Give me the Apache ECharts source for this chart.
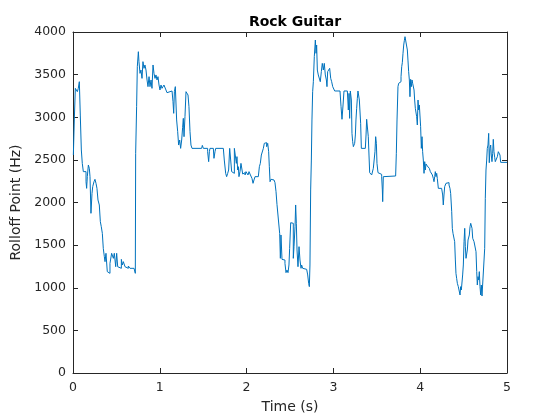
<!DOCTYPE html>
<html>
<head>
<meta charset="utf-8">
<script src="https://cdn.jsdelivr.net/npm/echarts@6/dist/echarts.min.js"></script>
<style>
  html, body { margin: 0; padding: 0; background: #fff; }
  #chart { width: 560px; height: 420px; }
</style>
</head>
<body>
<div id="chart"></div>
<script>
// time (s) and spectral rolloff (Hz)
const times = [
  0.004, 0.015, 0.027, 0.050, 0.061, 0.073, 0.084, 0.096, 0.107, 0.119,
  0.138, 0.150, 0.157, 0.165, 0.177, 0.188, 0.196, 0.207, 0.219, 0.227,
  0.242, 0.253, 0.265, 0.276, 0.288, 0.303, 0.315, 0.326, 0.338, 0.349,
  0.361, 0.369, 0.380, 0.395, 0.415, 0.426, 0.445, 0.465, 0.476, 0.492,
  0.503, 0.515, 0.530, 0.557, 0.568, 0.580, 0.599, 0.618, 0.637, 0.657,
  0.703, 0.718, 0.722, 0.733, 0.741, 0.753, 0.760, 0.772, 0.783, 0.795,
  0.806, 0.818, 0.829, 0.841, 0.853, 0.864, 0.876, 0.887, 0.899, 0.910,
  0.922, 0.933, 0.945, 0.956, 0.968, 0.979, 0.991, 1.002, 1.014, 1.025,
  1.037, 1.048, 1.060, 1.071, 1.083, 1.094, 1.141, 1.152, 1.160, 1.168,
  1.179, 1.190, 1.194, 1.206, 1.217, 1.229, 1.240, 1.252, 1.263, 1.271,
  1.279, 1.290, 1.302, 1.313, 1.325, 1.336, 1.348, 1.359, 1.371, 1.482,
  1.490, 1.502, 1.551, 1.563, 1.571, 1.578, 1.617, 1.624, 1.636, 1.644,
  1.732, 1.743, 1.759, 1.770, 1.782, 1.793, 1.805, 1.816, 1.828, 1.847,
  1.859, 1.870, 1.882, 1.889, 1.897, 1.905, 1.912, 1.924, 1.935, 1.943,
  1.955, 1.970, 1.982, 1.993, 2.005, 2.016, 2.028, 2.039, 2.051, 2.062,
  2.074, 2.085, 2.097, 2.135, 2.147, 2.158, 2.170, 2.181, 2.193, 2.204,
  2.220, 2.231, 2.243, 2.254, 2.262, 2.270, 2.281, 2.293, 2.304, 2.316,
  2.327, 2.339, 2.350, 2.373, 2.381, 2.389, 2.396, 2.408, 2.431, 2.442,
  2.454, 2.465, 2.477, 2.488, 2.496, 2.508, 2.531, 2.538, 2.546, 2.558,
  2.565, 2.573, 2.581, 2.592, 2.604, 2.615, 2.627, 2.634, 2.646, 2.657,
  2.669, 2.692, 2.704, 2.715, 2.723, 2.730, 2.738, 2.746, 2.753, 2.761,
  2.769, 2.780, 2.792, 2.800, 2.807, 2.815, 2.826, 2.838, 2.849, 2.861,
  2.872, 2.884, 2.895, 2.907, 2.919, 2.926, 2.934, 2.946, 2.957, 2.969,
  2.980, 2.992, 3.003, 3.015, 3.076, 3.088, 3.099, 3.111, 3.122, 3.161,
  3.172, 3.180, 3.187, 3.195, 3.207, 3.214, 3.222, 3.230, 3.237, 3.245,
  3.253, 3.260, 3.268, 3.276, 3.283, 3.299, 3.306, 3.314, 3.322, 3.368,
  3.376, 3.383, 3.395, 3.402, 3.410, 3.418, 3.429, 3.441, 3.448, 3.460,
  3.472, 3.479, 3.487, 3.495, 3.502, 3.514, 3.537, 3.556, 3.564, 3.568,
  3.575, 3.587, 3.717, 3.725, 3.733, 3.744, 3.752, 3.760, 3.767, 3.779,
  3.787, 3.794, 3.802, 3.810, 3.817, 3.825, 3.836, 3.844, 3.852, 3.859,
  3.867, 3.875, 3.882, 3.890, 3.898, 3.906, 3.913, 3.921, 3.929, 3.936,
  3.944, 3.952, 3.959, 3.967, 3.975, 3.982, 3.990, 3.998, 4.005, 4.013,
  4.021, 4.028, 4.036, 4.044, 4.052, 4.059, 4.067, 4.082, 4.105, 4.117,
  4.128, 4.140, 4.151, 4.159, 4.167, 4.174, 4.182, 4.190, 4.197, 4.209,
  4.247, 4.259, 4.266, 4.274, 4.282, 4.290, 4.297, 4.309, 4.320, 4.332,
  4.343, 4.351, 4.363, 4.370, 4.378, 4.389, 4.397, 4.405, 4.412, 4.420,
  4.428, 4.439, 4.451, 4.459, 4.466, 4.474, 4.482, 4.489, 4.497, 4.505,
  4.513, 4.520, 4.528, 4.536, 4.543, 4.551, 4.559, 4.566, 4.574, 4.582,
  4.589, 4.597, 4.605, 4.612, 4.620, 4.631, 4.643, 4.651, 4.658, 4.666,
  4.674, 4.681, 4.689, 4.697, 4.704, 4.712, 4.735, 4.743, 4.750, 4.758,
  4.766, 4.773, 4.781, 4.789, 4.796, 4.804, 4.812, 4.819, 4.827, 4.835,
  4.842, 4.850, 4.858, 4.865, 4.881, 4.889, 4.900, 4.912, 4.919, 4.927,
  5.000
];
const rolloff = [
  2557, 2968, 3339, 3300, 3339, 3417, 3026, 2616, 2459, 2362,
  2362, 2244, 2166, 2303, 2440, 2401, 2303, 1873, 2107, 2186,
  2244, 2272, 2225, 2166, 2029, 1971, 1775, 1716, 1638, 1462,
  1365, 1306, 1404, 1189, 1169, 1286, 1404, 1345, 1404, 1247,
  1404, 1247, 1228, 1333, 1267, 1306, 1247, 1228, 1255, 1228,
  1228, 1169, 2577, 3124, 3593, 3769, 3652, 3515, 3554, 3456,
  3652, 3574, 3613, 3554, 3437, 3359, 3476, 3359, 3437, 3339,
  3613, 3515, 3456, 3496, 3437, 3476, 3378, 3320, 3378, 3339,
  3320, 3378, 3359, 3320, 3288, 3308, 3300, 3183, 3046, 3300,
  3359, 3378, 2968, 2831, 2674, 2733, 2635, 2733, 2882, 2987,
  2772, 3007, 3300, 3308, 3261, 3124, 2831, 2674, 2635, 2635,
  2670, 2635, 2596, 2479, 2596, 2635, 2635, 2518, 2596, 2635,
  2635, 2498, 2342, 2303, 2342, 2381, 2635, 2616, 2362, 2342,
  2635, 2635, 2459, 2538, 2381, 2420, 2303, 2362, 2459, 2479,
  2334, 2350, 2323, 2362, 2342, 2323, 2362, 2334, 2323, 2283,
  2225, 2264, 2303, 2303, 2420, 2459, 2557, 2577, 2635, 2694,
  2702, 2655, 2694, 2596, 2420, 2244, 2272, 2264, 2264, 2244,
  2233, 2127, 1978, 1959, 1638, 1345, 1619, 1333, 1325, 1286,
  1177, 1208, 1177, 1267, 1462, 1763, 1756, 1345, 1482, 1716,
  1971, 1756, 1443, 1247, 1482, 1325, 1228, 1267, 1228, 1247,
  1216, 1200, 1150, 1052, 1013, 1267, 2147, 2498, 2968, 3300,
  3417, 3711, 3906, 3750, 3847, 3554, 3496, 3476, 3417, 3535,
  3632, 3554, 3632, 3496, 3437, 3359, 3535, 3554, 3574, 3456,
  3417, 3359, 3339, 3308, 3308, 3124, 2976, 3144, 3308, 3308,
  3085, 3280, 2987, 3308, 3202, 2811, 2714, 2655, 2635, 2694,
  2792, 2968, 3105, 3222, 3308, 3202, 3202, 2929, 2635, 2635,
  2792, 2976, 2976, 2772, 2557, 2350, 2342, 2323, 2303, 2401,
  2420, 2596, 2772, 2694, 2459, 2350, 2330, 2303, 2147, 2010,
  2303, 2311, 2311, 2577, 2968, 3359, 3398, 3378, 3417, 3476,
  3593, 3640, 3750, 3847, 3898, 3945, 3945, 3926, 3789, 3671,
  3535, 3437, 3241, 3445, 3359, 3437, 3398, 3378, 3320, 3202,
  3105, 3085, 3007, 2909, 3202, 3085, 3144, 3124, 2889, 2635,
  2772, 2596, 2498, 2342, 2479, 2381, 2452, 2428, 2401, 2362,
  2342, 2323, 2283, 2244, 2303, 2362, 2303, 2342, 2283, 2166,
  2166, 2088, 1971, 2088, 2186, 2205, 2225, 2205, 2233, 2205,
  2166, 2107, 1892, 1697, 1638, 1619, 1541, 1326, 1169, 1110,
  1052, 1013, 1032, 915, 1013, 974, 966, 1150, 1267, 1541,
  1697, 1482, 1345, 1345, 1443, 1560, 1580, 1619, 1716, 1756,
  1756, 1697, 1580, 1560, 1541, 1521, 1423, 1189, 1032, 1130,
  1091, 1189, 1013, 915, 1032, 903, 903, 1462, 2049, 2381,
  2498, 2635, 2674, 2811, 2467, 2635, 2674, 2557, 2479, 2577,
  2741, 2596, 2530, 2479, 2467, 2538, 2596, 2584, 2557, 2471,
  2471
];
const xTicks = [0, 1, 2, 3, 4, 5];
const yTicks = [0, 500, 1000, 1500, 2000, 2500, 3000, 3500, 4000];

const points = times.map((t, i) => [t, rolloff[i]]);

const axisColor = "#262626";
const font = "DejaVu Sans";

let mychart = echarts.init(document.getElementById("chart"));

const baseX = {
  type: "value",
  min: xTicks[0],
  max: xTicks[xTicks.length - 1],
  interval: 1,
  axisLine: { show: true, onZero: false, lineStyle: { color: axisColor, width: 1 } },
  axisTick: { show: true, inside: true, length: 5, lineStyle: { color: axisColor } },
  splitLine: { show: false }
};
const baseY = {
  type: "value",
  min: yTicks[0],
  max: yTicks[yTicks.length - 1],
  interval: 500,
  axisLine: { show: true, onZero: false, lineStyle: { color: axisColor, width: 1 } },
  axisTick: { show: true, inside: true, length: 5, lineStyle: { color: axisColor } },
  splitLine: { show: false }
};

mychart.setOption({
  animation: false,
  backgroundColor: "#fff",
  title: {
    text: "Rock Guitar",
    left: 290,
    textAlign: "center",
    top: 10,
    textStyle: { fontFamily: font, fontSize: 14, fontWeight: "bold", color: "#000" }
  },
  grid: { left: 73, right: 53, top: 32, bottom: 47, containLabel: false },
  xAxis: [
    Object.assign({}, baseX, {
      position: "bottom",
      name: "Time (s)",
      nameLocation: "middle",
      nameGap: 27,
      nameTextStyle: { fontFamily: font, fontSize: 14, color: axisColor },
      axisLabel: { fontFamily: font, fontSize: 12.5, color: axisColor, margin: 8,
        formatter: (v) => String(v) }
    }),
    Object.assign({}, baseX, { position: "top", axisLabel: { show: false } })
  ],
  yAxis: [
    Object.assign({}, baseY, {
      position: "left",
      name: "Rolloff Point (Hz)",
      nameLocation: "middle",
      nameGap: 31,
      nameTextStyle: { fontFamily: font, fontSize: 14, color: axisColor },
      axisLabel: { fontFamily: font, fontSize: 12.5, color: axisColor, margin: 7,
        formatter: (v) => String(v) }
    }),
    Object.assign({}, baseY, { position: "right", axisLabel: { show: false } })
  ],
  series: [
    {
      type: "line",
      data: points,
      step: "end",
      showSymbol: false,
      lineStyle: { color: "#0072BD", width: 1 },
      xAxisIndex: 0,
      yAxisIndex: 0
    }
  ]
});
</script>
</body>
</html>
